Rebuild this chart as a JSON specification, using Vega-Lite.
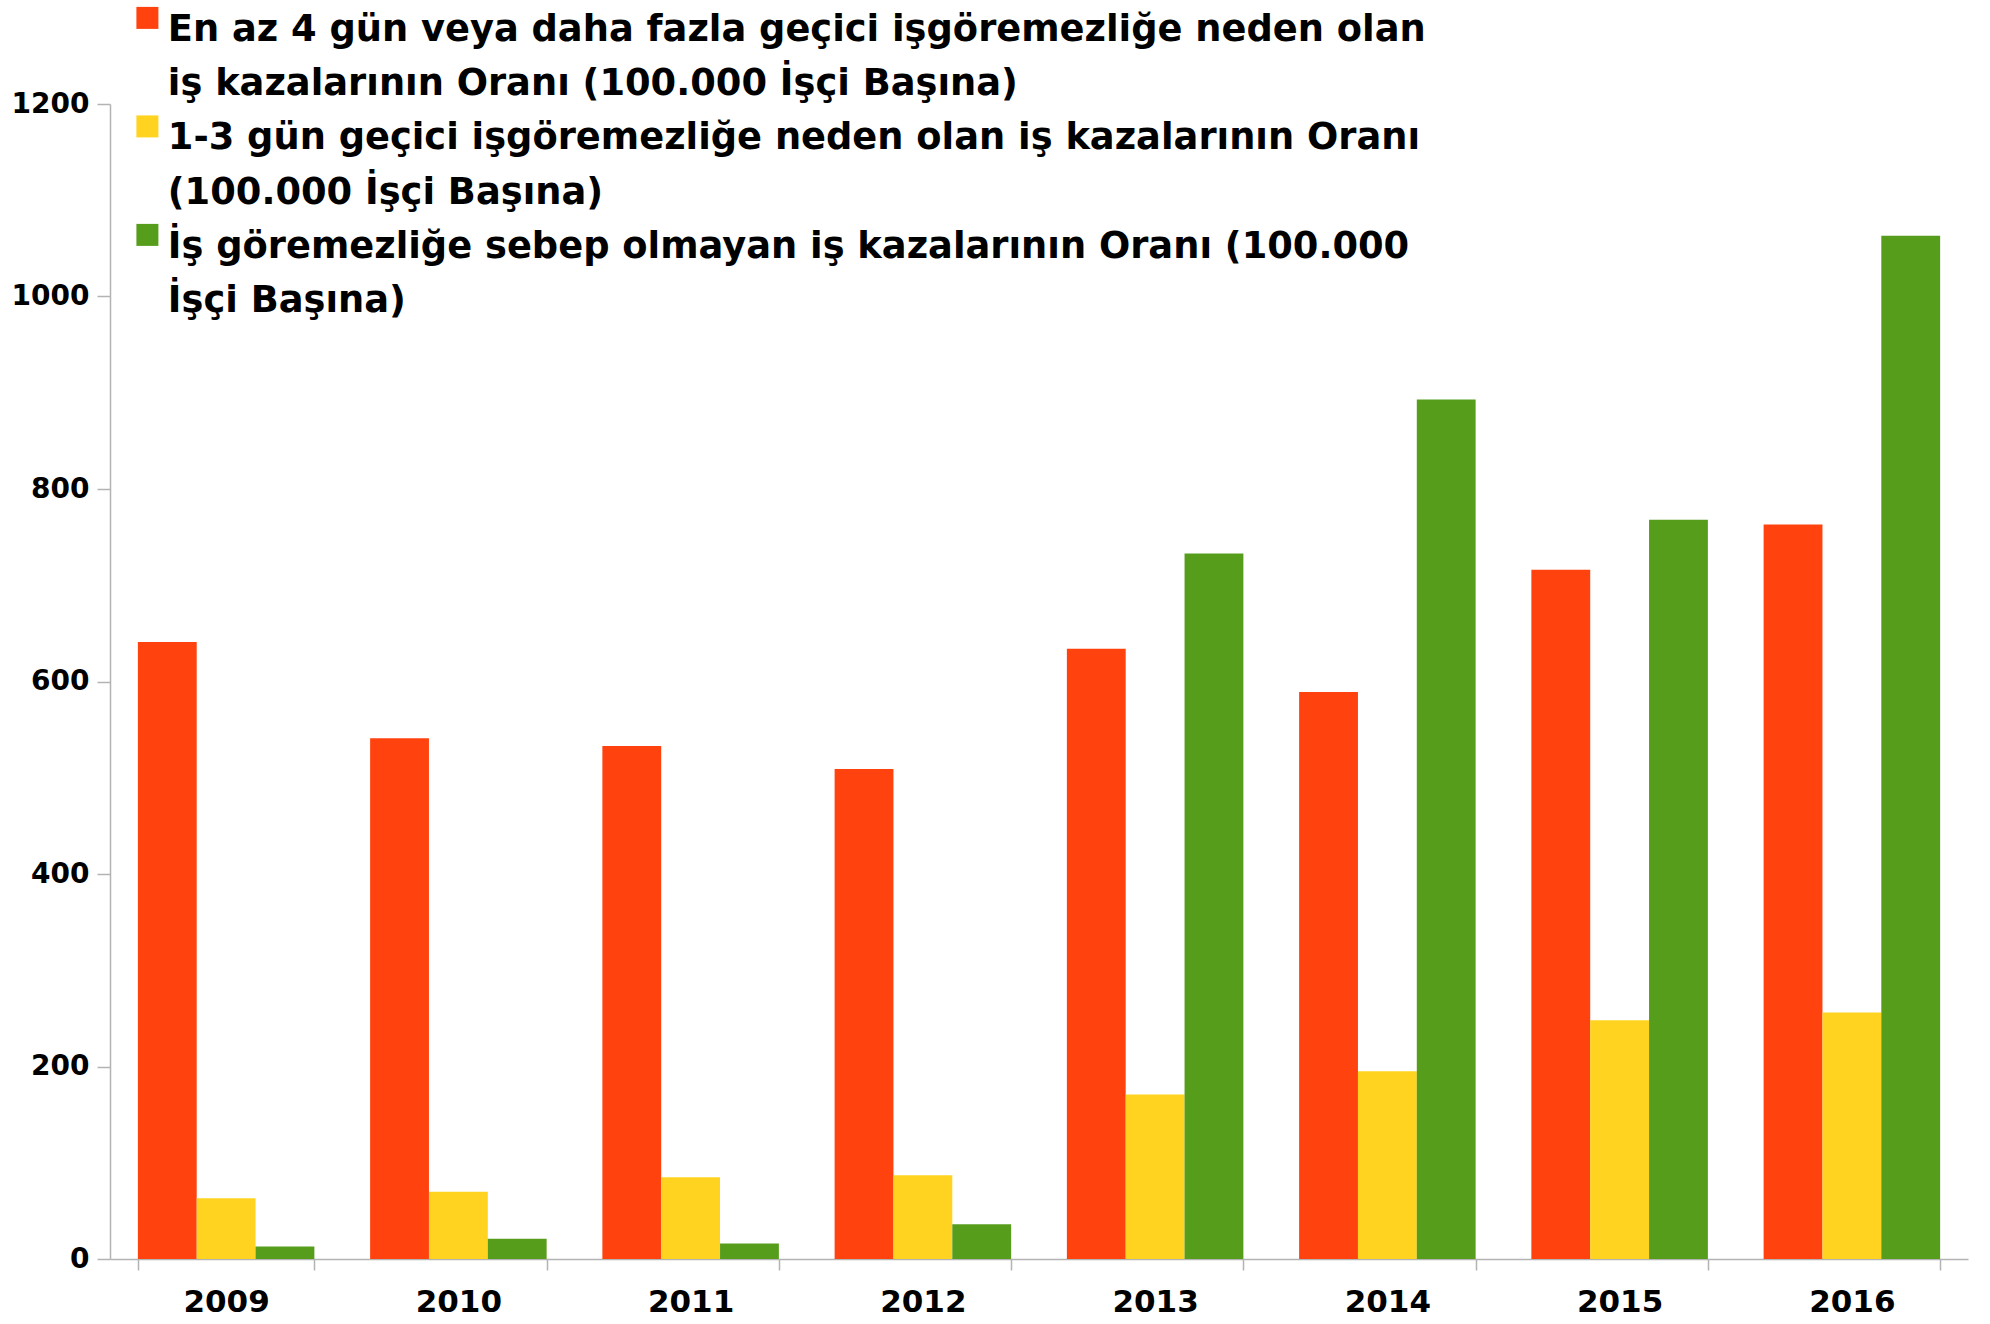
{
  "$schema": "https://vega.github.io/schema/vega-lite/v6.json",
  "width": 1858,
  "height": 1155,
  "autosize": {"type": "none"},
  "padding": {"left": 110, "top": 104, "right": 22, "bottom": 65},
  "background": "white",
  "config": {
    "view": {"stroke": null},
    "style": {"guide-label": {"lineHeight": 54.6}}
  },
  "data": {
    "values": [
      {"year": "2009", "series": "A", "value": 641},
      {"year": "2009", "series": "B", "value": 63},
      {"year": "2009", "series": "C", "value": 13},
      {"year": "2010", "series": "A", "value": 541},
      {"year": "2010", "series": "B", "value": 70},
      {"year": "2010", "series": "C", "value": 21},
      {"year": "2011", "series": "A", "value": 533},
      {"year": "2011", "series": "B", "value": 85},
      {"year": "2011", "series": "C", "value": 16},
      {"year": "2012", "series": "A", "value": 509},
      {"year": "2012", "series": "B", "value": 87},
      {"year": "2012", "series": "C", "value": 36},
      {"year": "2013", "series": "A", "value": 634},
      {"year": "2013", "series": "B", "value": 171},
      {"year": "2013", "series": "C", "value": 733},
      {"year": "2014", "series": "A", "value": 589},
      {"year": "2014", "series": "B", "value": 195},
      {"year": "2014", "series": "C", "value": 893},
      {"year": "2015", "series": "A", "value": 716},
      {"year": "2015", "series": "B", "value": 248},
      {"year": "2015", "series": "C", "value": 768},
      {"year": "2016", "series": "A", "value": 763},
      {"year": "2016", "series": "B", "value": 256},
      {"year": "2016", "series": "C", "value": 1063}
    ]
  },
  "mark": {"type": "bar"},
  "encoding": {
    "x": {
      "field": "year",
      "type": "nominal",
      "scale": {"paddingInner": 0.24, "paddingOuter": 0.12},
      "axis": {
        "title": null,
        "labelAngle": 0,
        "labelFont": "DejaVu Sans",
        "labelFontWeight": "bold",
        "labelFontSize": 31,
        "labelColor": "#000000",
        "labelPadding": 17,
        "tickBand": "extent",
        "tickSize": 11,
        "tickColor": "#b3b3b3",
        "domainColor": "#b3b3b3",
        "domainWidth": 1.5,
        "tickWidth": 1.5
      }
    },
    "xOffset": {
      "field": "series",
      "type": "nominal",
      "scale": {"domain": ["A", "B", "C"], "paddingInner": 0, "paddingOuter": 0}
    },
    "y": {
      "field": "value",
      "type": "quantitative",
      "scale": {"domain": [0, 1200], "nice": false},
      "axis": {
        "title": null,
        "values": [0, 200, 400, 600, 800, 1000, 1200],
        "format": "d",
        "grid": false,
        "labelFont": "DejaVu Sans",
        "labelFontWeight": "bold",
        "labelFontSize": 28,
        "labelColor": "#000000",
        "labelPadding": 8,
        "tickSize": 13,
        "tickColor": "#b3b3b3",
        "domainColor": "#b3b3b3",
        "domainWidth": 1.5,
        "tickWidth": 1.5
      }
    },
    "color": {
      "field": "series",
      "type": "nominal",
      "scale": {"domain": ["A", "B", "C"], "range": ["#ff420e", "#ffd320", "#579d1c"]},
      "legend": {
        "title": null,
        "orient": "none",
        "legendX": 19,
        "legendY": -104.5,
        "direction": "vertical",
        "symbolType": "square",
        "symbolSize": 484,
        "symbolStrokeWidth": 0,
        "symbolOpacity": 1,
        "labelFont": "DejaVu Sans",
        "labelFontWeight": "bold",
        "labelFontSize": 36.8,
        "labelColor": "#000000",
        "labelLimit": 1700,
        "labelOffset": 2,
        "labelBaseline": "top",
        "rowPadding": 4.5,
        "encoding": {"labels": {"dy": {"value": -6}}},
        "labelExpr": "datum.label == 'A' ? ['En az 4 gün veya daha fazla geçici işgöremezliğe neden olan', 'iş kazalarının Oranı (100.000 İşçi Başına)'] : datum.label == 'B' ? ['1-3 gün geçici işgöremezliğe neden olan iş kazalarının Oranı', '(100.000 İşçi Başına)'] : ['İş göremezliğe sebep olmayan iş kazalarının Oranı (100.000', 'İşçi Başına)']"
      }
    }
  }
}
